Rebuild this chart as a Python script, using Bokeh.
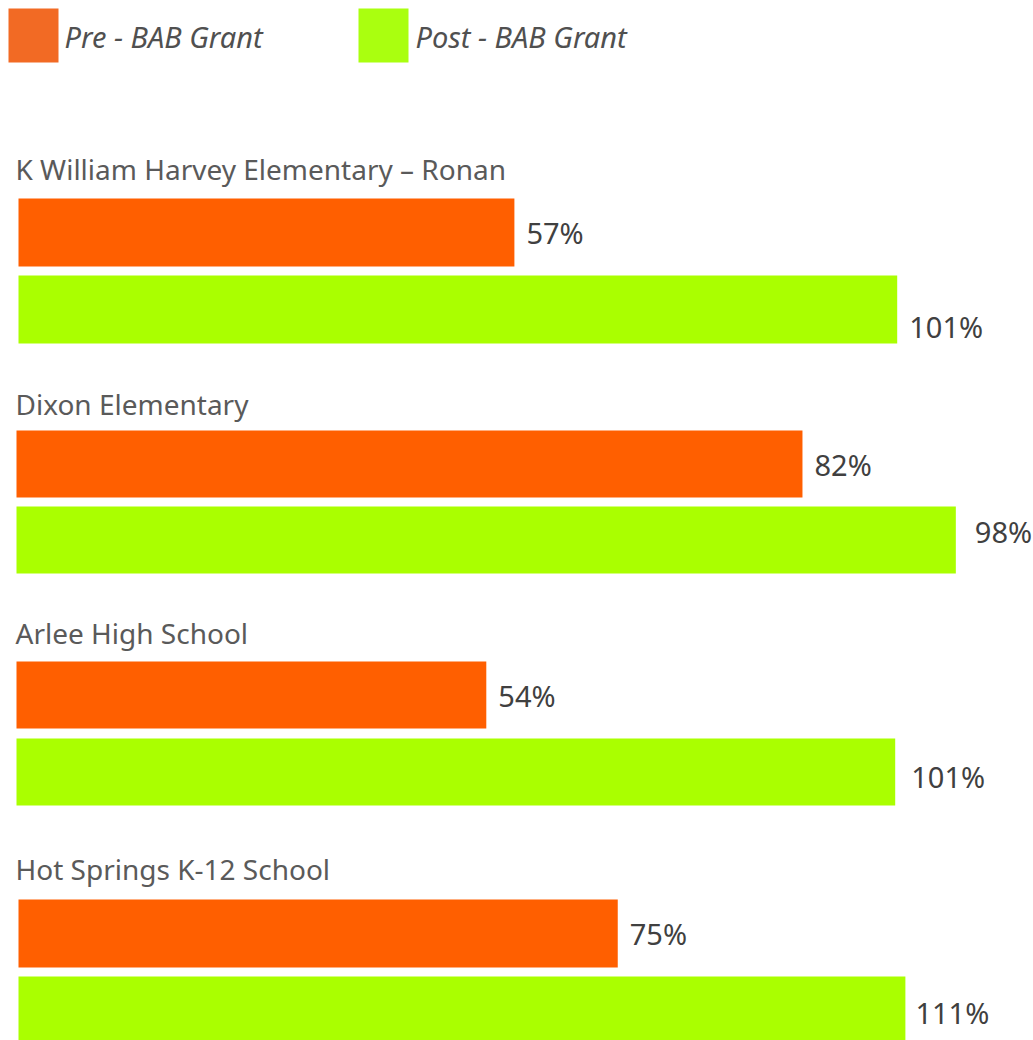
from bokeh.plotting import figure
from bokeh.models import Range1d, ColumnDataSource
from bokeh.core.properties import value
from bokeh.embed import file_html
from bokeh.resources import INLINE

# ---- data ----
schools = ["K William Harvey Elementary \u2013 Ronan", "Dixon Elementary",
           "Arlee High School", "Hot Springs K-12 School"]
pre_values = [57, 82, 54, 75]
post_values = [101, 98, 101, 111]
series_names = ["Pre - BAB Grant", "Post - BAB Grant"]

# ---- style / layout ----
PRE_COLOR = "#FF5F00"
POST_COLOR = "#AAFF00"
LEG_PRE = "#F26A24"
LEG_POST = "#AAFF0F"
FONT = "Noto Sans"
W, H = 1033, 1040

# per-group pixel layout (left edge, px per percent, title y, pre bar top, post bar top, bar height)
grp_x0 = [18, 16, 16, 18]
grp_scale = [8.70, 9.585, 8.70, 7.99]
grp_title_y = [168, 403, 632, 868]
grp_pre_top = [198, 430, 661, 899]
grp_post_top = [275, 506, 738, 976]
bar_h = [68, 67, 67, 68]
post_lbl_dx = [13, 20, 17, 11]
post_lbl_dy = [17, -9, 4, 2]

p = figure(width=W, height=H, output_backend="svg", toolbar_location=None,
           x_range=Range1d(0, W), y_range=Range1d(H, 0), min_border=0,
           outline_line_color=None, background_fill_color="white")
p.xaxis.visible = False
p.yaxis.visible = False
p.grid.visible = False

# legend
p.quad(left=[8, 358], right=[58, 408], top=[8, 8], bottom=[62, 62],
       color=[LEG_PRE, LEG_POST], line_color=None)
p.text(x=[64, 415], y=[36, 36], text=series_names, text_font=value(FONT),
       text_font_style="italic", text_font_size="29px", text_color="#505050",
       text_baseline="middle", text_align="left")

for i, name in enumerate(schools):
    rname = f"g{i}"
    s = grp_scale[i]
    x0 = grp_x0[i]
    p.extra_x_ranges[rname] = Range1d(-x0 / s, (W - x0) / s)
    pre_c = grp_pre_top[i] + bar_h[i] / 2
    post_c = grp_post_top[i] + bar_h[i] / 2
    src = ColumnDataSource(dict(y=[pre_c, post_c], v=[pre_values[i], post_values[i]],
                                c=[PRE_COLOR, POST_COLOR]))
    p.hbar(y="y", left=0, right="v", height=bar_h[i], fill_color="c",
           line_color=None, source=src, x_range_name=rname)
    # title
    p.text(x=[15], y=[grp_title_y[i]], text=[name], text_font=value(FONT),
           text_font_size="28px", text_color="#5a5a5a", text_baseline="middle",
           text_align="left")
    # labels
    p.text(x=[pre_values[i]], y=[pre_c], text=[f"{pre_values[i]}%"],
           x_offset=12, y_offset=0, text_font=value(FONT), text_font_size="29px",
           text_color="#404040", text_baseline="middle", x_range_name=rname)
    p.text(x=[post_values[i]], y=[post_c], text=[f"{post_values[i]}%"],
           x_offset=post_lbl_dx[i] - 1, y_offset=post_lbl_dy[i], text_font=value(FONT),
           text_font_size="29px", text_color="#404040", text_baseline="middle",
           x_range_name=rname)

open("out.html", "w").write(file_html(p, INLINE))
